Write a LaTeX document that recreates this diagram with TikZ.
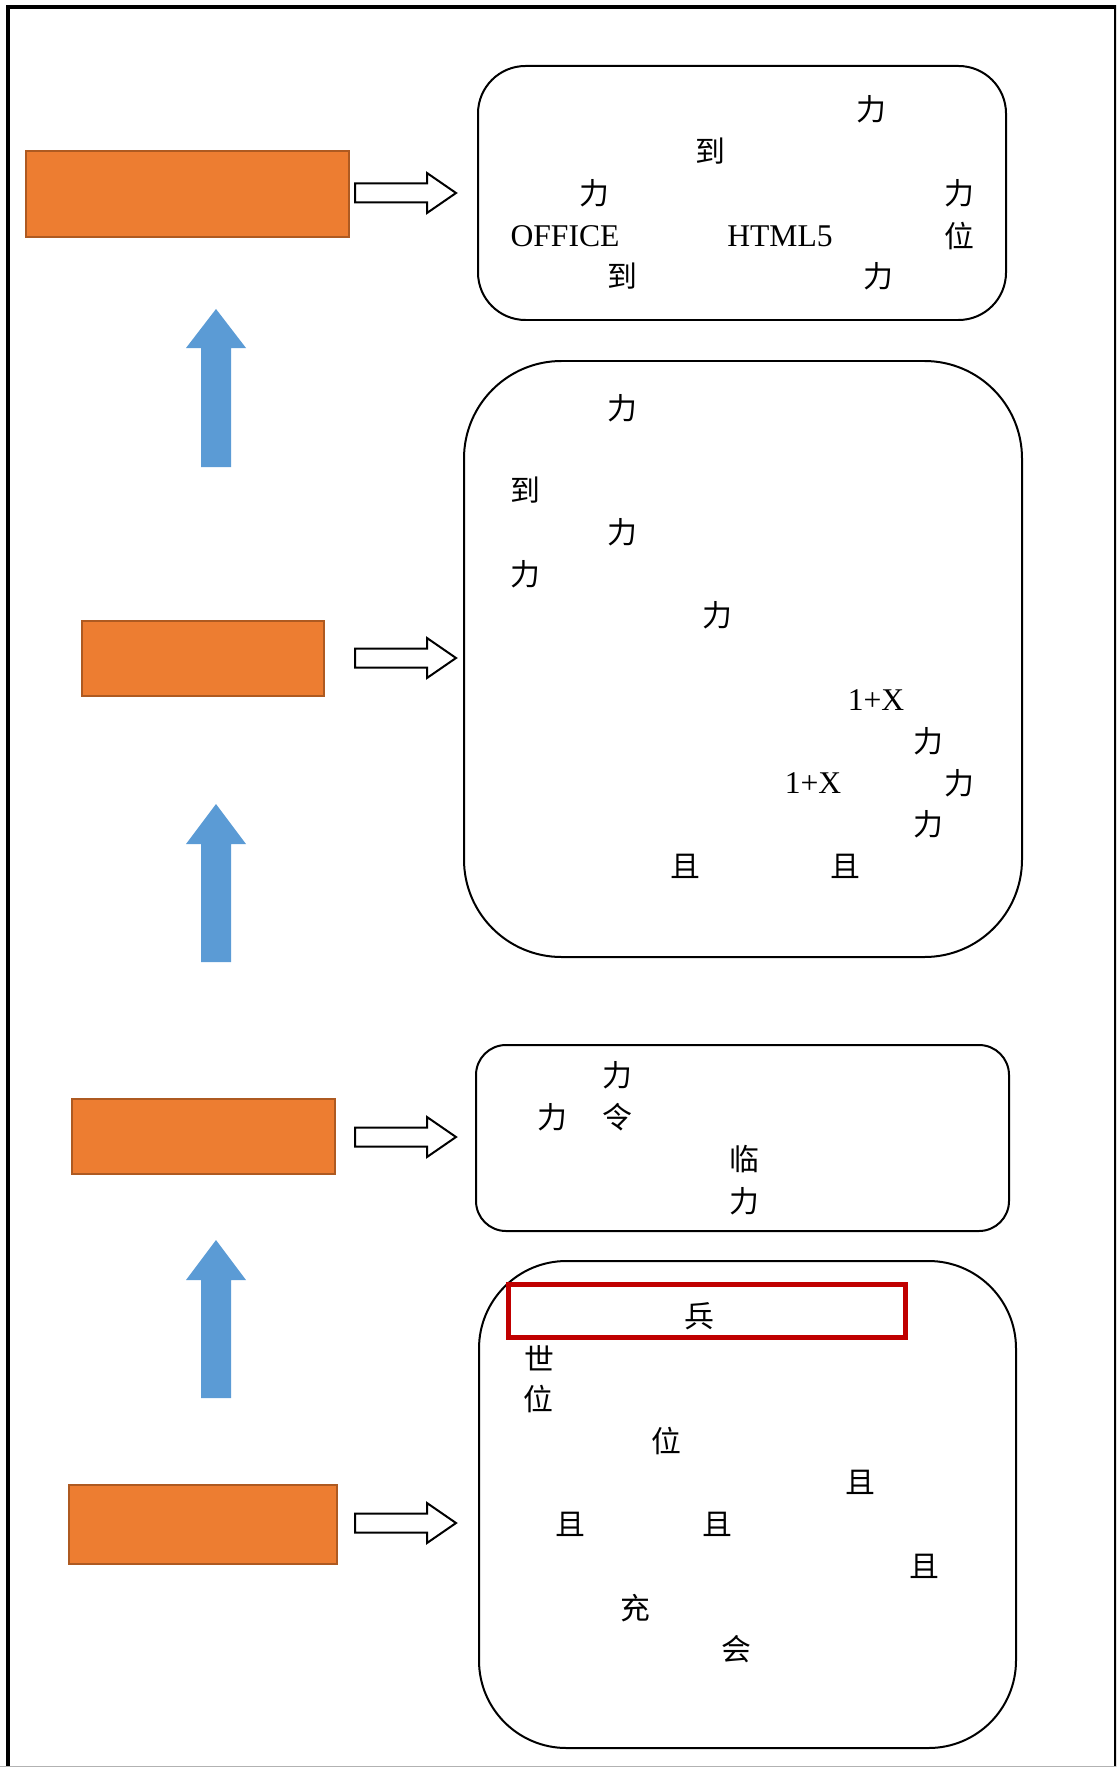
\documentclass[tikz,border=0pt]{standalone}
\usepackage{fontspec}
\setmainfont{Liberation Serif}
\newfontfamily\cjk{Noto Sans CJK SC}

\definecolor{barorange}{HTML}{ED7D31}
\definecolor{barrim}{HTML}{AE5A21}
\definecolor{upblue}{HTML}{5B9BD5}
\definecolor{markred}{HTML}{C00000}

\tikzset{
  bar/.style={fill=barorange, draw=barrim, line width=0.04cm},
  upshaft/.style={fill=upblue},
  rightshaft/.style={draw=black, fill=white, line width=0.04cm},
  panel/.style={draw=black, line width=0.04cm},
  txt/.style={inner sep=0pt, font=\fontsize{18}{20}\selectfont},
  ch/.style={inner sep=0pt, font=\cjk\fontsize{17}{20}\selectfont}
}

\begin{document}
\begin{tikzpicture}[x=0.02cm,y=-0.02cm]
\useasboundingbox (0,0) rectangle (1116,1767);
\clip (0,0) rectangle (1116,1767);
\draw[line width=0.08cm] (8,7) rectangle (1116,1800);
\draw[gray!60] (0,1766) -- (1116,1766);

\draw[bar] (26,151) rectangle (349,237);
\draw[bar] (82,621) rectangle (324,696);
\draw[bar] (72,1099) rectangle (335,1174);
\draw[bar] (69,1485) rectangle (337,1564);

\fill[upshaft] (216,309) -- ++(30,39) -- ++(-15,0) -- ++(0,119) -- ++(-30,0) -- ++(0,-119) -- ++(-15,0) -- cycle;
\fill[upshaft] (216,804) -- ++(30,40) -- ++(-15,0) -- ++(0,118) -- ++(-30,0) -- ++(0,-118) -- ++(-15,0) -- cycle;
\fill[upshaft] (216,1240) -- ++(30,40) -- ++(-15,0) -- ++(0,118) -- ++(-30,0) -- ++(0,-118) -- ++(-15,0) -- cycle;

\draw[rightshaft] (355,183.5) -- ++(72,0) -- ++(0,-10.5) -- ++(29,20) -- ++(-29,20) -- ++(0,-10.5) -- ++(-72,0) -- cycle;
\draw[rightshaft] (355,648.5) -- ++(72,0) -- ++(0,-10.5) -- ++(29,20) -- ++(-29,20) -- ++(0,-10.5) -- ++(-72,0) -- cycle;
\draw[rightshaft] (355,1127.5) -- ++(72,0) -- ++(0,-10.5) -- ++(29,20) -- ++(-29,20) -- ++(0,-10.5) -- ++(-72,0) -- cycle;
\draw[rightshaft] (355,1513.5) -- ++(72,0) -- ++(0,-10.5) -- ++(29,20) -- ++(-29,20) -- ++(0,-10.5) -- ++(-72,0) -- cycle;

\draw[panel, rounded corners=0.95cm] (478,66) rectangle (1006,320);
\draw[panel, rounded corners=1.95cm] (464,361) rectangle (1022,957);
\draw[panel, rounded corners=0.6cm] (476,1045) rectangle (1009,1231);
\draw[panel, rounded corners=1.75cm] (479,1261) rectangle (1016,1748);
\draw[markred, line width=0.1cm] (508,1284) rectangle (905,1337);

\node[ch] (a1) at (871,109) {力};
\node[ch] (a2) at (710,151) {到};
\node[ch] (a3) at (594,193) {力};
\node[ch] (a4) at (959,193) {力};
\node[txt] (a5) at (565,236) {OFFICE};
\node[txt] (a6) at (780,236) {HTML5};
\node[ch] (a7) at (959,236) {位};
\node[ch] (a8) at (622,276) {到};
\node[ch] (a9) at (878,276) {力};

\node[ch] (b1) at (622,408) {力};
\node[ch] (b2) at (525,490) {到};
\node[ch] (b3) at (622,532) {力};
\node[ch] (b4) at (525,574) {力};
\node[ch] (b5) at (717,615) {力};
\node[txt] (b6) at (876,700) {1+X};
\node[ch] (b7) at (928,741) {力};
\node[txt] (b8) at (813,783) {1+X};
\node[ch] (b9) at (959,783) {力};
\node[ch] (b10) at (928,824) {力};
\node[ch] (b11) at (685,866) {且};
\node[ch] (b12) at (845,866) {且};

\node[ch] (c1) at (617,1075) {力};
\node[ch] (c2) at (552,1117) {力};
\node[ch] (c3) at (617,1117) {令};
\node[ch] (c4) at (744,1159) {临};
\node[ch] (c5) at (744,1201) {力};

\node[ch] (d1) at (699,1316) {兵};
\node[ch] (d2) at (539,1358) {世};
\node[ch] (d3) at (538,1399) {位};
\node[ch] (d4) at (666,1441) {位};
\node[ch] (d5) at (860,1482) {且};
\node[ch] (d6) at (570,1524) {且};
\node[ch] (d7) at (717,1524) {且};
\node[ch] (d8) at (924,1566) {且};
\node[ch] (d9) at (635,1608) {充};
\node[ch] (d10) at (736,1649) {会};
\end{tikzpicture}
\end{document}
